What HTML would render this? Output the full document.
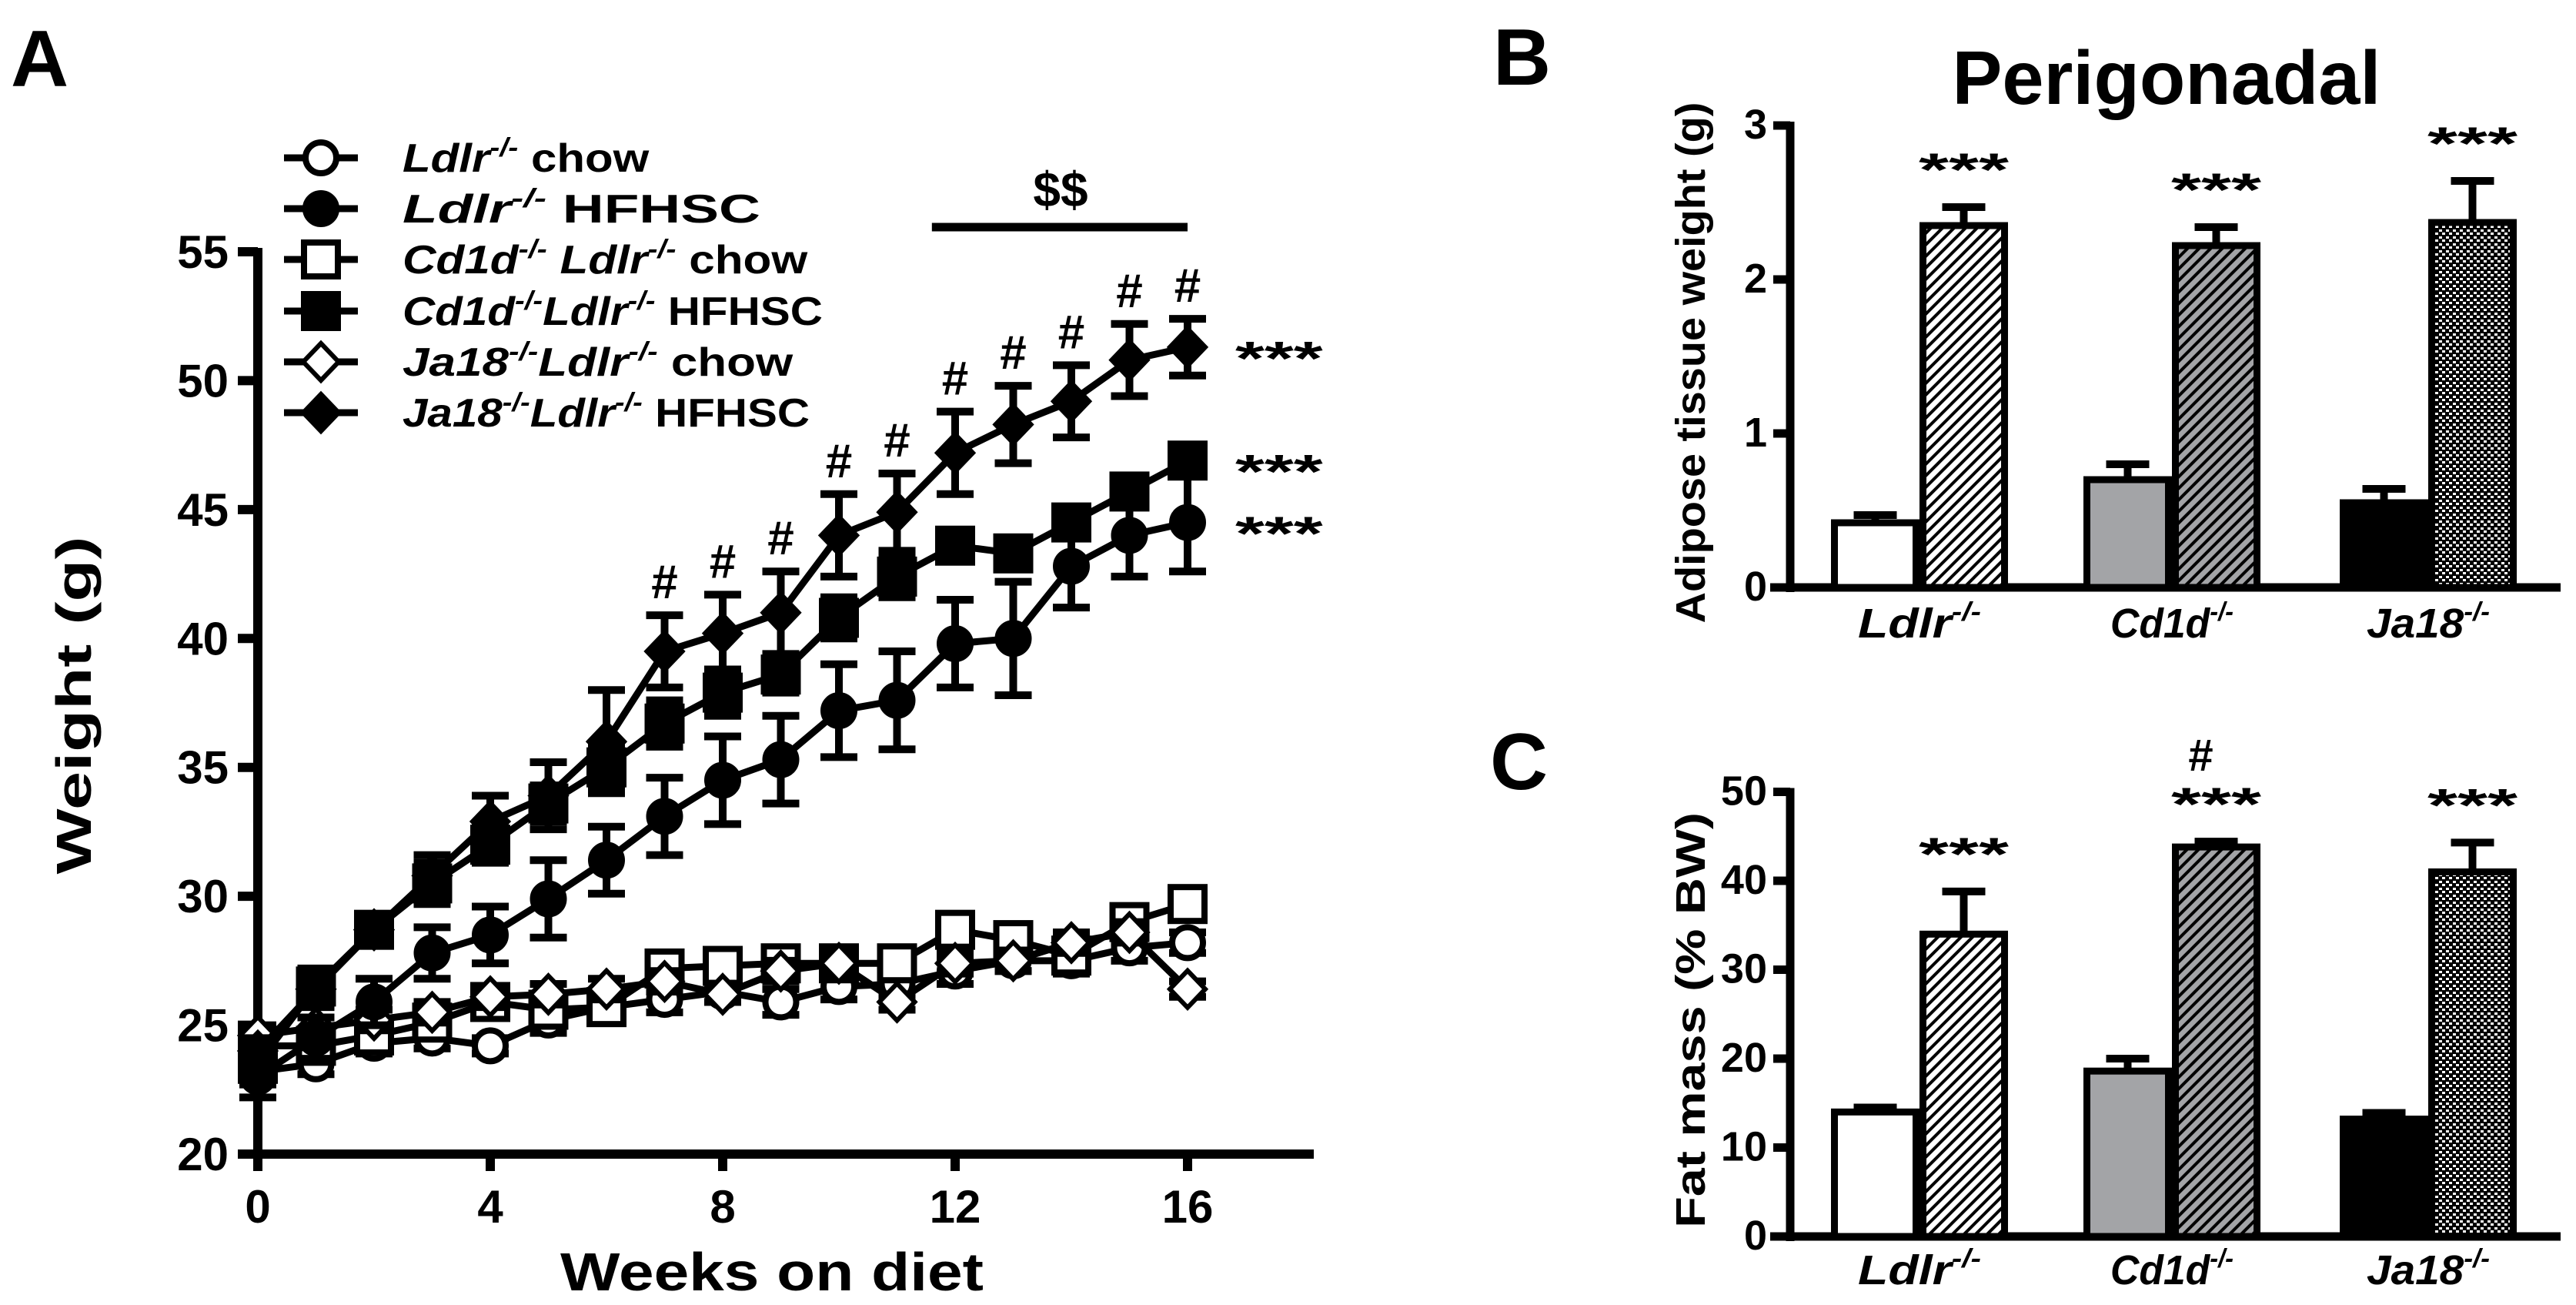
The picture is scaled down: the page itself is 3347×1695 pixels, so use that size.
<!DOCTYPE html>
<html><head><meta charset="utf-8"><style>
html,body{margin:0;padding:0;background:#fff;}
svg{display:block;}
text{font-family:"Liberation Sans",Arial,sans-serif;font-weight:bold;fill:#000;}
</style></head><body>
<svg id="fig" width="3347" height="1695" viewBox="0 0 3347 1695" xmlns="http://www.w3.org/2000/svg">
<defs>
<pattern id="hatchW" patternUnits="userSpaceOnUse" width="15" height="15">
<rect width="15" height="15" fill="#fff"/><path d="M-4,19 L19,-4 M-4,4 L4,-4 M11,19 L19,11" stroke="#000" stroke-width="4"/></pattern>
<pattern id="hatchG" patternUnits="userSpaceOnUse" width="15" height="15">
<rect width="15" height="15" fill="#a3a4a7"/><path d="M-4,19 L19,-4 M-4,4 L4,-4 M11,19 L19,11" stroke="#000" stroke-width="4"/></pattern>
<pattern id="checker" patternUnits="userSpaceOnUse" width="9" height="9">
<rect width="9" height="9" fill="#000"/><rect x="1" y="1" width="4" height="3" fill="#fff"/><rect x="5" y="5" width="4" height="3" fill="#fff"/></pattern>
</defs>
<g id="panelA"></g>
<g id="panelB"></g>
<g id="panelC"></g>
</svg>
<script>
// ---- Panel A data ----
const weeks = [0,1,2,3,4,5,6,7,8,9,10,11,12,13,14,15,16];
const ldlrChow = [23.2,23.5,24.3,24.5,24.2,25.2,25.7,26.0,26.3,25.9,26.5,26.6,27.1,27.5,27.5,28.0,28.2];
const ldlrChowErr = [0.5,0.4,0.4,0.4,0.3,0.5,0.4,0.5,0.4,0.5,0.5,0.5,0.5,0.4,0.5,0.5,0.4];
const ldlrHF = [23.0,24.5,25.9,27.8,28.5,29.9,31.4,33.1,34.5,35.3,37.2,37.6,39.8,40.0,42.8,44.0,44.5];
const ldlrHFErr = [0.8,0.8,0.9,1.0,1.1,1.5,1.3,1.5,1.7,1.7,1.8,1.9,1.7,2.2,1.6,1.6,1.9];
const cd1dChow = [24.2,24.2,24.6,25.1,25.9,25.6,25.7,27.2,27.3,27.4,27.4,27.4,28.7,28.3,27.7,29.0,29.7];
const cd1dChowErr = [0.5,0.4,0.4,0.4,0.4,0.4,0.4,0.4,0.4,0.5,0.4,0.4,0.4,0.4,0.5,0.5,0.4];
const cd1dHF = [23.5,26.5,28.7,30.5,32.0,33.6,35.0,36.7,37.9,38.6,40.8,42.4,43.6,43.3,44.5,45.7,46.9];
const cd1dHFErr = [0.5,0.7,0.4,0.8,0.7,0.7,0.9,0.9,0.9,0.7,0.8,0.8,0.5,0.3,0.5,0.6,0.6];
const ja18Chow = [24.6,24.9,25.2,25.5,26.1,26.2,26.4,26.7,26.2,27.1,27.4,25.9,27.4,27.5,28.2,28.6,26.4];
const ja18ChowErr = [0.4,0.4,0.4,0.4,0.4,0.4,0.4,0.4,0.3,0.4,0.4,0.3,0.4,0.4,0.4,0.4,0.3];
const ja18HF = [24.0,26.4,28.7,30.8,32.9,33.9,36.0,39.5,40.2,41.0,44.0,44.9,47.2,48.3,49.2,50.8,51.3];
const ja18HFErr = [0.5,0.7,0.5,0.8,1.0,1.3,2.0,1.4,1.5,1.6,1.6,1.5,1.6,1.5,1.4,1.4,1.1];
const hashWeeks = [7,8,9,10,11,12,13,14,15,16];
const xTicksA = [0,4,8,12,16];
const yTicksA = [20,25,30,35,40,45,50,55];
// ---- Panel B/C data ----
const groups = ["Ldlr","Cd1d","Ja18"];
const adiposeChow = [0.42,0.70,0.55];
const adiposeChowErr = [0.05,0.10,0.09];
const adiposeHF = [2.35,2.22,2.37];
const adiposeHFErr = [0.12,0.12,0.27];
const yTicksB = [0,1,2,3];
const fatChow = [14.0,18.6,13.2];
const fatChowErr = [0.5,1.4,0.7];
const fatHF = [34.0,43.8,41.0];
const fatHFErr = [4.8,0.6,3.3];
const yTicksC = [0,10,20,30,40,50];

const NS="http://www.w3.org/2000/svg";
function mk(parent,tag,attrs,txt){const e=document.createElementNS(NS,tag);for(const k in attrs)e.setAttribute(k,attrs[k]);if(txt!==undefined)e.textContent=txt;parent.appendChild(e);return e;}
function fitW(el,target,ax){
  const w=el.getBBox().width; if(!w)return;
  const s=target/w;
  const prev=el.getAttribute('transform')||'';
  el.setAttribute('transform',prev+` translate(${ax},0) scale(${s},1) translate(${-ax},0)`);
}

// ===== Panel A =====
const A=document.getElementById('panelA');
const ax0=335, ax1=1543, ay0=1499, ay1=327;
const xA=w=>ax0+(w-0)*(ax1-ax0)/16;
const yA=v=>ay0-(v-20)*(ay0-ay1)/35;
let t;
t=mk(A,'text',{x:14,y:112,'font-size':104},'A');


let l=mk(A,'line',{x1:ax0,y1:ay1-5,x2:ax0,y2:ay0+6,stroke:'#000','stroke-width':12});


l=mk(A,'line',{x1:ax0-6,y1:ay0,x2:1707,y2:ay0,stroke:'#000','stroke-width':12});


yTicksA.forEach(v=>{
  mk(A,'line',{x1:ax0-26,y1:yA(v),x2:ax0,y2:yA(v),stroke:'#000','stroke-width':12});
  const e=mk(A,'text',{x:297,y:yA(v)+21,'font-size':60,'text-anchor':'end'},String(v));
  
  
});
xTicksA.forEach(v=>{
  mk(A,'line',{x1:xA(v),y1:ay0,x2:xA(v),y2:ay0+22,stroke:'#000','stroke-width':12});
  const e=mk(A,'text',{x:xA(v),y:1588,'font-size':60,'text-anchor':'middle'},String(v));
  
  
});
t=mk(A,'text',{x:1003,y:1676,'font-size':70,'text-anchor':'middle'},'Weeks on diet');


fitW(t,550,1003);
t=mk(A,'text',{x:0,y:0,'font-size':64,'text-anchor':'middle'},'Weight (g)');


fitW(t,439,0);
t.setAttribute('transform','translate(118,916) rotate(-90) '+t.getAttribute('transform'));

function marker(g,shape,cx,cy,fill){
  if(shape==='circle') return mk(g,'circle',{cx:cx,cy:cy,r:20,fill:fill,stroke:'#000','stroke-width':8});
  if(shape==='square') return mk(g,'rect',{x:cx-22,y:cy-22,width:44,height:44,fill:fill,stroke:'#000','stroke-width':8});
  return mk(g,'polygon',{points:`${cx},${cy-24} ${cx+23},${cy} ${cx},${cy+24} ${cx-23},${cy}`,fill:fill,stroke:'#000','stroke-width':6});
}
const seriesList=[
 {name:'ldlr-chow',vals:ldlrChow,err:ldlrChowErr,shape:'circle',fill:'#fff'},
 {name:'cd1d-chow',vals:cd1dChow,err:cd1dChowErr,shape:'square',fill:'#fff'},
 {name:'ja18-chow',vals:ja18Chow,err:ja18ChowErr,shape:'diamond',fill:'#fff'},
 {name:'ldlr-hfhsc',vals:ldlrHF,err:ldlrHFErr,shape:'circle',fill:'#000'},
 {name:'cd1d-hfhsc',vals:cd1dHF,err:cd1dHFErr,shape:'square',fill:'#000'},
 {name:'ja18-hfhsc',vals:ja18HF,err:ja18HFErr,shape:'diamond',fill:'#000'}];
seriesList.forEach(s=>{
  const g=mk(A,'g',{});
  
  
  s.vals.forEach((v,i)=>{
    const x=xA(weeks[i]);
    mk(g,'line',{x1:x,y1:yA(v+s.err[i]),x2:x,y2:yA(v-s.err[i]),stroke:'#000','stroke-width':10});
    mk(g,'line',{x1:x-24,y1:yA(v+s.err[i]),x2:x+24,y2:yA(v+s.err[i]),stroke:'#000','stroke-width':10});
    mk(g,'line',{x1:x-24,y1:yA(v-s.err[i]),x2:x+24,y2:yA(v-s.err[i]),stroke:'#000','stroke-width':10});
  });
  const pts=s.vals.map((v,i)=>xA(weeks[i])+','+yA(v)).join(' ');
  const pl=mk(g,'polyline',{points:pts,fill:'none',stroke:'#000','stroke-width':9});
  
  
  s.vals.forEach((v,i)=>{
    const m=marker(g,s.shape,xA(weeks[i]),yA(v),s.fill);
    
    
  });
});
hashWeeks.forEach(w=>{
  const i=weeks.indexOf(w);
  const e=mk(A,'text',{x:xA(w),y:yA(ja18HF[i]+ja18HFErr[i])-22,'font-size':62,'text-anchor':'middle'},'#');
  
  
});
[ja18HF,cd1dHF,ldlrHF].forEach(arr=>{
  const e=mk(A,'text',{x:1605,y:yA(arr[16])+36,'font-size':62},'***');
  
  
  fitW(e,115,1605);
});
l=mk(A,'line',{x1:xA(11.6),y1:295,x2:xA(16),y2:295,stroke:'#000','stroke-width':11});


t=mk(A,'text',{x:1378,y:268,'font-size':64,'text-anchor':'middle'},'$$');


// Legend
const legRows=[205,271,337,404,470,536];
const legLabels=[['Ldlr','-/-',' chow'],['Ldlr','-/-',' HFHSC'],['Cd1d','-/-',' Ldlr','-/-',' chow'],['Cd1d','-/-','Ldlr','-/-',' HFHSC'],['Ja18','-/-','Ldlr','-/-',' chow'],['Ja18','-/-','Ldlr','-/-',' HFHSC']];
const legWidths=[321,465,527,546,508,529];
const legShapes=[['circle','#fff'],['circle','#000'],['square','#fff'],['square','#000'],['diamond','#fff'],['diamond','#000']];
legRows.forEach((y,i)=>{
  const g=mk(A,'g',{});
  
  
  mk(g,'line',{x1:369,y1:y,x2:465,y2:y,stroke:'#000','stroke-width':9});
  marker(g,legShapes[i][0],417,y,legShapes[i][1]);
  const tx=mk(g,'text',{x:523,y:y+18,'font-size':52});
  const parts=legLabels[i];
  parts.forEach((p,j)=>{
    const ts=document.createElementNS(NS,'tspan');
    if(p==='-/-'){ts.setAttribute('font-size','34');ts.setAttribute('dy','-20');}
    else if(j>0&&parts[j-1]==='-/-'){ts.setAttribute('dy','20');}
    if(p==='Ldlr'||p==='Cd1d'||p==='Ja18'||p===' Ldlr'||p==='-/-')ts.setAttribute('font-style','italic');
    ts.textContent=p;tx.appendChild(ts);
  });
  fitW(tx,legWidths[i],523);
});

// ===== Bar panels =====
const centers=[2494,2822,3155];
const bw=115;
function barPanel(G,y0,pxPerUnit,ticks,chow,chowErr,hf,hfErr,labelY,tickFs){
  const yv=v=>y0-v*pxPerUnit;
  const top=yv(ticks[ticks.length-1]);
  let e=mk(G,'line',{x1:2326,y1:top-5,x2:2326,y2:y0+6,stroke:'#000','stroke-width':11});
  
  
  e=mk(G,'line',{x1:2300,y1:y0,x2:3327,y2:y0,stroke:'#000','stroke-width':11});
  
  
  ticks.forEach(v=>{
    mk(G,'line',{x1:2304,y1:yv(v),x2:2326,y2:yv(v),stroke:'#000','stroke-width':11});
    const tt=mk(G,'text',{x:2296,y:yv(v)+17,'font-size':tickFs,'text-anchor':'end'},String(v));
    
    
  });
  const chowFill=['#fff','#a3a4a7','#000'];
  const hfFill=['url(#hatchW)','url(#hatchG)','url(#checker)'];
  groups.forEach((gname,i)=>{
    const c=centers[i];
    [[chow[i],chowErr[i],chowFill[i],c-bw,'chow'],[hf[i],hfErr[i],hfFill[i],c,'hfhsc']].forEach(b=>{
      const yt=yv(b[0]);
      mk(G,'line',{x1:b[3]+bw/2,y1:yt,x2:b[3]+bw/2,y2:yv(b[0]+b[1]),stroke:'#000','stroke-width':10});
      mk(G,'line',{x1:b[3]+bw/2-28,y1:yv(b[0]+b[1]),x2:b[3]+bw/2+28,y2:yv(b[0]+b[1]),stroke:'#000','stroke-width':10});
      const r=mk(G,'rect',{x:b[3]+4.5,y:yt,width:bw-9,height:y0-yt,fill:b[2],stroke:'#000','stroke-width':9});
      
      
    });
    const sx=c+bw/2;
    const st=mk(G,'text',{x:sx,y:yv(hf[i]+hfErr[i])-28,'font-size':60,'text-anchor':'middle'},'***');
    
    
    fitW(st,118,sx);
    const lb=mk(G,'text',{x:c,y:labelY,'font-size':54,'font-style':'italic','text-anchor':'middle'});
    
    
    const t1=document.createElementNS(NS,'tspan');t1.textContent=gname;lb.appendChild(t1);
    const t2=document.createElementNS(NS,'tspan');t2.setAttribute('font-size','34');t2.setAttribute('dy','-22');t2.textContent='-/-';lb.appendChild(t2);
    fitW(lb,160,c);
  });
  return yv;
}
const B=document.getElementById('panelB');
t=mk(B,'text',{x:1940,y:110,'font-size':104},'B');


t=mk(B,'text',{x:2815,y:135,'font-size':98,'text-anchor':'middle'},'Perigonadal');


fitW(t,557,2815);
t=mk(B,'text',{x:0,y:0,'font-size':54,'text-anchor':'middle'},'Adipose tissue weight (g)');


fitW(t,677,0);
t.setAttribute('transform','translate(2215,471) rotate(-90) '+t.getAttribute('transform'));
barPanel(B,763,200,yTicksB,adiposeChow,adiposeChowErr,adiposeHF,adiposeHFErr,828,54);

const C=document.getElementById('panelC');
t=mk(C,'text',{x:1936,y:1025,'font-size':104},'C');


t=mk(C,'text',{x:0,y:0,'font-size':54,'text-anchor':'middle'},'Fat mass (% BW)');


fitW(t,540,0);
t.setAttribute('transform','translate(2215,1325) rotate(-90) '+t.getAttribute('transform'));
const yC=barPanel(C,1606,11.55,yTicksC,fatChow,fatChowErr,fatHF,fatHFErr,1668,54);
t=mk(C,'text',{x:centers[1]+bw/2-20,y:yC(fatHF[1]+fatHFErr[1])-92,'font-size':58,'text-anchor':'middle'},'#');


</script>
</body></html>
